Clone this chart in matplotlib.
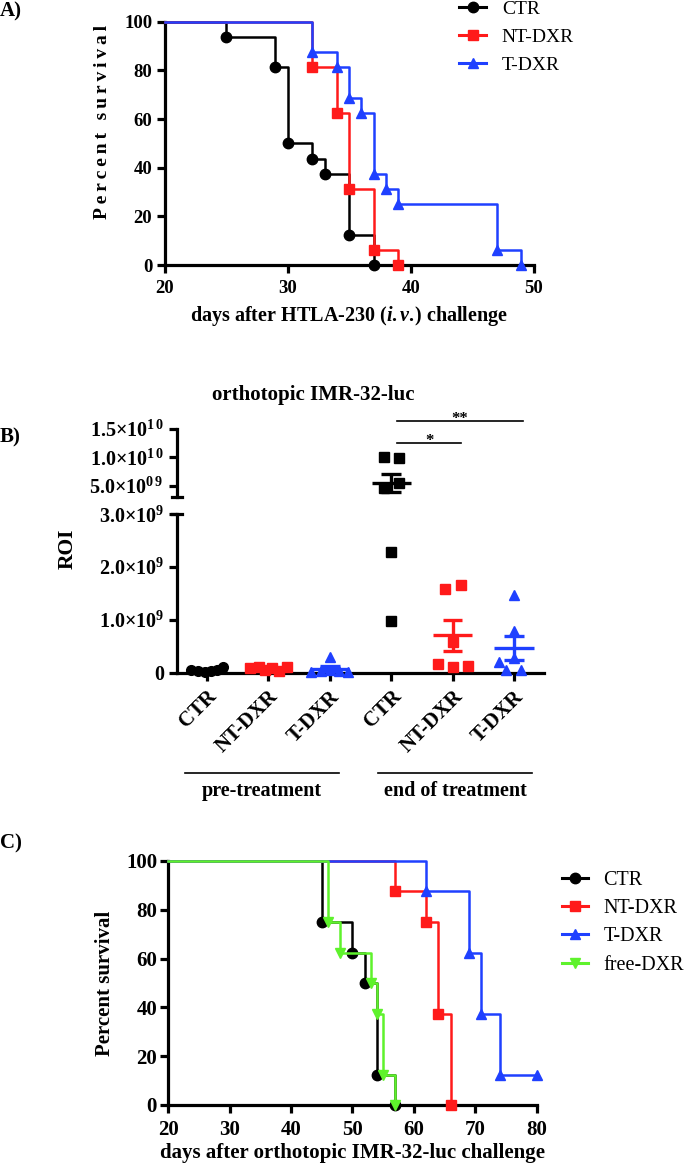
import numpy as np
import matplotlib
matplotlib.use('Agg')
import matplotlib.pyplot as plt
from matplotlib.lines import Line2D
from matplotlib import transforms

plt.rcParams['font.family'] = ['Liberation Serif', 'DejaVu Serif']
plt.rcParams['mathtext.fontset'] = 'custom'
plt.rcParams['mathtext.rm'] = 'Liberation Serif:bold'
plt.rcParams['mathtext.it'] = 'Liberation Serif:italic:bold'
plt.rcParams['mathtext.bf'] = 'Liberation Serif:bold'
plt.rcParams['mathtext.default'] = 'bf'

# ---------------- data ----------------
# Panel A: survival after HTLA-230 (i.v.) challenge
a_labels = ['CTR', 'NT-DXR', 'T-DXR']
a_ctr_days = [25, 29, 30, 32, 33, 35, 37]
a_ctr_surv = [93.75, 81.25, 50, 43.75, 37.5, 12.5, 0]
a_nt_days = [32, 34, 35, 37, 39]
a_nt_surv = [81.25, 62.5, 31.25, 6.25, 0]
a_t_days = [32, 34, 35, 36, 37, 38, 39, 47, 49]
a_t_surv = [87.5, 81.25, 68.75, 62.5, 37.5, 31.25, 25, 6.25, 0]
a_xticks = [20, 30, 40, 50]
a_yticks = [0, 20, 40, 60, 80, 100]

# Panel B: ROI, orthotopic IMR-32-luc
b_cats = ['CTR', 'NT-DXR', 'T-DXR', 'CTR', 'NT-DXR', 'T-DXR']
b_pre_ctr = [0.06e9, 0.03e9, 0.02e9, 0.04e9, 0.05e9, 0.11e9]
b_pre_nt = [0.08e9, 0.11e9, 0.06e9, 0.09e9, 0.04e9, 0.10e9]
b_pre_t = [0.30e9, 0.02e9, 0.04e9, 0.06e9, 0.03e9, 0.01e9]
b_end_ctr = [1.00e10, 0.99e10, 4.65e9, 5.5e9, 2.28e9, 0.97e9]
b_end_nt = [1.59e9, 1.67e9, 0.59e9, 0.16e9, 0.10e9, 0.12e9]
b_end_t = [1.47e9, 0.79e9, 0.28e9, 0.21e9, 0.05e9, 0.06e9]
b_groups = ['pre-treatment', 'end of treatment']
b_top_ticks = [5e9, 1e10, 1.5e10]
b_top_labels = ['5.0×10$^{0\\,9}$', '1.0×10$^{1\\,0}$', '1.5×10$^{1\\,0}$']
b_bot_ticks = [0, 1e9, 2e9, 3e9]
b_bot_labels = ['0', '1.0×10$^{9}$', '2.0×10$^{9}$', '3.0×10$^{9}$']

# Panel C: survival after orthotopic IMR-32-luc challenge
c_labels = ['CTR', 'NT-DXR', 'T-DXR', 'free-DXR']
c_ctr_days = [45, 50, 52, 54, 57]
c_ctr_surv = [75, 62.5, 50, 12.5, 0]
c_nt_days = [57, 62, 64, 66]
c_nt_surv = [87.5, 75, 37.5, 0]
c_t_days = [62, 69, 71, 74, 80]
c_t_surv = [87.5, 62.5, 37.5, 12.5, 12.5]
c_free_days = [46, 48, 53, 54, 55, 57]
c_free_surv = [75, 62.5, 50, 37.5, 12.5, 0]
c_xticks = [20, 30, 40, 50, 60, 70, 80]
c_yticks = [0, 20, 40, 60, 80, 100]

# ---------------- style ----------------
BLACK = '#000000'
RED = '#FF1A1A'
BLUE = '#1F40FF'
GREEN = '#5EF22C'
THIN = '\u2009'

W, H = 685, 1164
fig = plt.figure(figsize=(W / 100, H / 100), dpi=100)


def box(left, top, right, bottom):
    return [left / W, 1 - bottom / H, (right - left) / W, (bottom - top) / H]


def style_axes(ax, lw=2.3):
    for s in ['top', 'right']:
        ax.spines[s].set_visible(False)
    for s in ['left', 'bottom']:
        ax.spines[s].set_linewidth(lw)
    ax.tick_params(direction='out', length=6, width=lw)


def km(ax, days, surv, color, marker, ms, z, start=20):
    x = [start] + list(days)
    y = [100] + list(surv)
    ax.step(x, y, where='post', color=color, lw=1.8, clip_on=False, zorder=z)
    ax.plot(days, surv, ls='none', marker=marker, ms=ms, color=color,
            clip_on=False, zorder=z + 0.05)
    return Line2D([], [], color=color, lw=2.2, marker=marker, ms=ms)


# ================= Panel A =================
axA = fig.add_axes(box(164.7, 21.7, 533.6, 265))
style_axes(axA)
hA = [km(axA, a_ctr_days, a_ctr_surv, BLACK, 'o', 7.5, 3.0),
      km(axA, a_nt_days, a_nt_surv, RED, 's', 6.5, 3.1),
      km(axA, a_t_days, a_t_surv, BLUE, '^', 7.5, 3.2)]
axA.set_xlim(20, 50)
axA.set_ylim(0, 100)
axA.set_xticks(a_xticks)
axA.set_xticklabels([str(v) for v in a_xticks], fontsize=13.5, weight='bold')
axA.set_yticks(a_yticks)
axA.set_yticklabels([str(v) for v in a_yticks], fontsize=13.5, weight='bold')
axA.tick_params(axis='x', pad=5)
axA.tick_params(axis='y', pad=3)
ylab = THIN.join('Percent') + ' ' + THIN * 2 + THIN.join('survival')
axA.set_ylabel(ylab, fontsize=14, weight='bold')
axA.yaxis.set_label_coords(-0.146, 0.59)
axA.set_xlabel('days after HTLA-230 ($\\it{i.v.}\\!$) challenge', fontsize=14.5, weight='bold')
axA.xaxis.set_label_coords(0.5, -0.16)
legA = axA.legend(hA, a_labels, loc='upper left',
                  bbox_to_anchor=(459 / W, 1.0), bbox_transform=fig.transFigure,
                  frameon=False, fontsize=14, borderpad=0, borderaxespad=0,
                  handlelength=1.4, handletextpad=0.8, labelspacing=0.55)
fig.text(0, 1 - 11 / H, 'A)', fontsize=15, weight='bold', ha='left', va='center')

# ================= Panel B =================
axBt = fig.add_axes(box(177, 428.7, 544, 497))
axBb = fig.add_axes(box(177, 514.3, 544, 672.7))
split_low = 3.08e9
for ax in (axBt, axBb):
    style_axes(ax)
    ax.set_xlim(-0.49, 5.49)
axBt.spines['bottom'].set_visible(False)
axBt.set_xticks([])
axBt.set_ylim(split_low, 1.5e10)
axBt.set_yticks(b_top_ticks)
axBt.set_yticklabels(b_top_labels, fontsize=14.5, weight='bold')
axBb.set_ylim(0, 3e9)
axBb.set_yticks(b_bot_ticks)
axBb.set_yticklabels(b_bot_labels, fontsize=14.5, weight='bold')
axBb.set_xticks(range(len(b_cats)))
axBb.set_xticklabels(b_cats, rotation=45, ha='right', va='top',
                     rotation_mode='anchor', fontsize=15, weight='bold')
axBb.tick_params(axis='x', pad=4)
axBb.tick_params(axis='y', pad=3)
# axis break caps
for ax, yy in ((axBt, 0.0), (axBb, 1.0)):
    ax.add_line(Line2D([-0.014, 0.014], [yy, yy], transform=ax.transAxes,
                       color='k', lw=2.3, clip_on=False))

b_values = [b_pre_ctr, b_pre_nt, b_pre_t, b_end_ctr, b_end_nt, b_end_t]
b_colors = [BLACK, RED, BLUE] * 2
b_markers = ['o', 's', '^', 's', 's', '^']
b_ms = [7, 6.5, 7.5, 6.5, 6.5, 7.5]
b_offsets = [[-0.27, -0.15, -0.04, 0.06, 0.16, 0.26],
             [-0.30, -0.16, -0.05, 0.06, 0.17, 0.30],
             [0.0, -0.30, -0.15, 0.0, 0.15, 0.30],
             [-0.12, 0.12, -0.12, 0.12, 0.0, 0.0],
             [-0.125, 0.13, 0.0, -0.23, 0.0, 0.245],
             [0.0, 0.0, 0.0, -0.25, -0.125, 0.12]]
for i, vals in enumerate(b_values):
    c = b_colors[i]
    for v, o in zip(vals, b_offsets[i]):
        ax = axBt if v > split_low else axBb
        ax.plot(i + o, v, marker=b_markers[i], ms=b_ms[i], color=c, ls='none',
                clip_on=False, zorder=3)
    m = np.mean(vals)
    sem = np.std(vals, ddof=1) / np.sqrt(len(vals))
    for ax in (axBt, axBb):
        kw = dict(color=c, lw=2.4, zorder=4, solid_capstyle='butt')
        ax.plot([i - 0.32, i + 0.32], [m, m], **kw)
        ax.plot([i, i], [m - sem, m + sem], **kw)
        ax.plot([i - 0.16, i + 0.16], [m + sem, m + sem], **kw)
        ax.plot([i - 0.16, i + 0.16], [m - sem, m - sem], **kw)

# significance
for x0, x1, yv, lab in ((3.10, 4.14, 1.245e10, '*'), (3.10, 5.14, 1.64e10, '**')):
    axBt.plot([x0, x1], [yv, yv], color='k', lw=1.2, clip_on=False)
    axBt.annotate(lab, xy=((x0 + x1) / 2, yv), xytext=(0, -1.5),
                  textcoords='offset points', ha='center', va='baseline',
                  fontsize=12, weight='bold', annotation_clip=False)

# group brackets
trB = transforms.blended_transform_factory(axBb.transData, axBb.transAxes)
for (x0, x1), lab in zip(((-0.355, 2.15), (2.79, 5.30)), b_groups):
    axBb.add_line(Line2D([x0, x1], [-0.635, -0.635], transform=trB, color='k',
                         lw=1.2, clip_on=False))
    axBb.text((x0 + x1) / 2, -0.745, lab, transform=trB, ha='center', va='center',
              fontsize=14.5, weight='bold')

fig.text(313.6 / W, 1 - 395 / H, 'orthotopic IMR-32-luc', ha='center', va='center',
         fontsize=15, weight='bold')
fig.text(68 / W, 1 - 549 / H, 'ROI', rotation=90, ha='center', va='center',
         fontsize=15.5, weight='bold')
fig.text(0, 1 - 437 / H, 'B)', fontsize=15, weight='bold', ha='left', va='center')

# ================= Panel C =================
axC = fig.add_axes(box(168.2, 861, 536.7, 1105))
style_axes(axC)
hC = [km(axC, c_ctr_days, c_ctr_surv, BLACK, 'o', 7.5, 3.0),
      km(axC, c_nt_days, c_nt_surv, RED, 's', 6.5, 3.1),
      km(axC, c_t_days, c_t_surv, BLUE, '^', 7.5, 3.2),
      km(axC, c_free_days, c_free_surv, GREEN, 'v', 7.5, 3.3)]
axC.set_xlim(20, 80)
axC.set_ylim(0, 100)
axC.set_xticks(c_xticks)
axC.set_xticklabels([str(v) for v in c_xticks], fontsize=15, weight='bold')
axC.set_yticks(c_yticks)
axC.set_yticklabels([str(v) for v in c_yticks], fontsize=15, weight='bold')
axC.tick_params(axis='x', pad=5)
axC.tick_params(axis='y', pad=2)
axC.set_ylabel('Percent survival', fontsize=15, weight='bold')
axC.yaxis.set_label_coords(-0.144, 0.5)
axC.set_xlabel('days after orthotopic IMR-32-luc challenge', fontsize=15, weight='bold')
axC.xaxis.set_label_coords(0.5, -0.155)
axC.legend(hC, c_labels, loc='upper left', bbox_to_anchor=(562 / W, 1 - 871 / H),
           bbox_transform=fig.transFigure, frameon=False, fontsize=14.5, borderpad=0,
           borderaxespad=0, handlelength=1.3, handletextpad=0.75, labelspacing=0.45)
fig.text(0, 1 - 843 / H, 'C)', fontsize=15, weight='bold', ha='left', va='center')

fig.savefig('out.png', dpi=100)
